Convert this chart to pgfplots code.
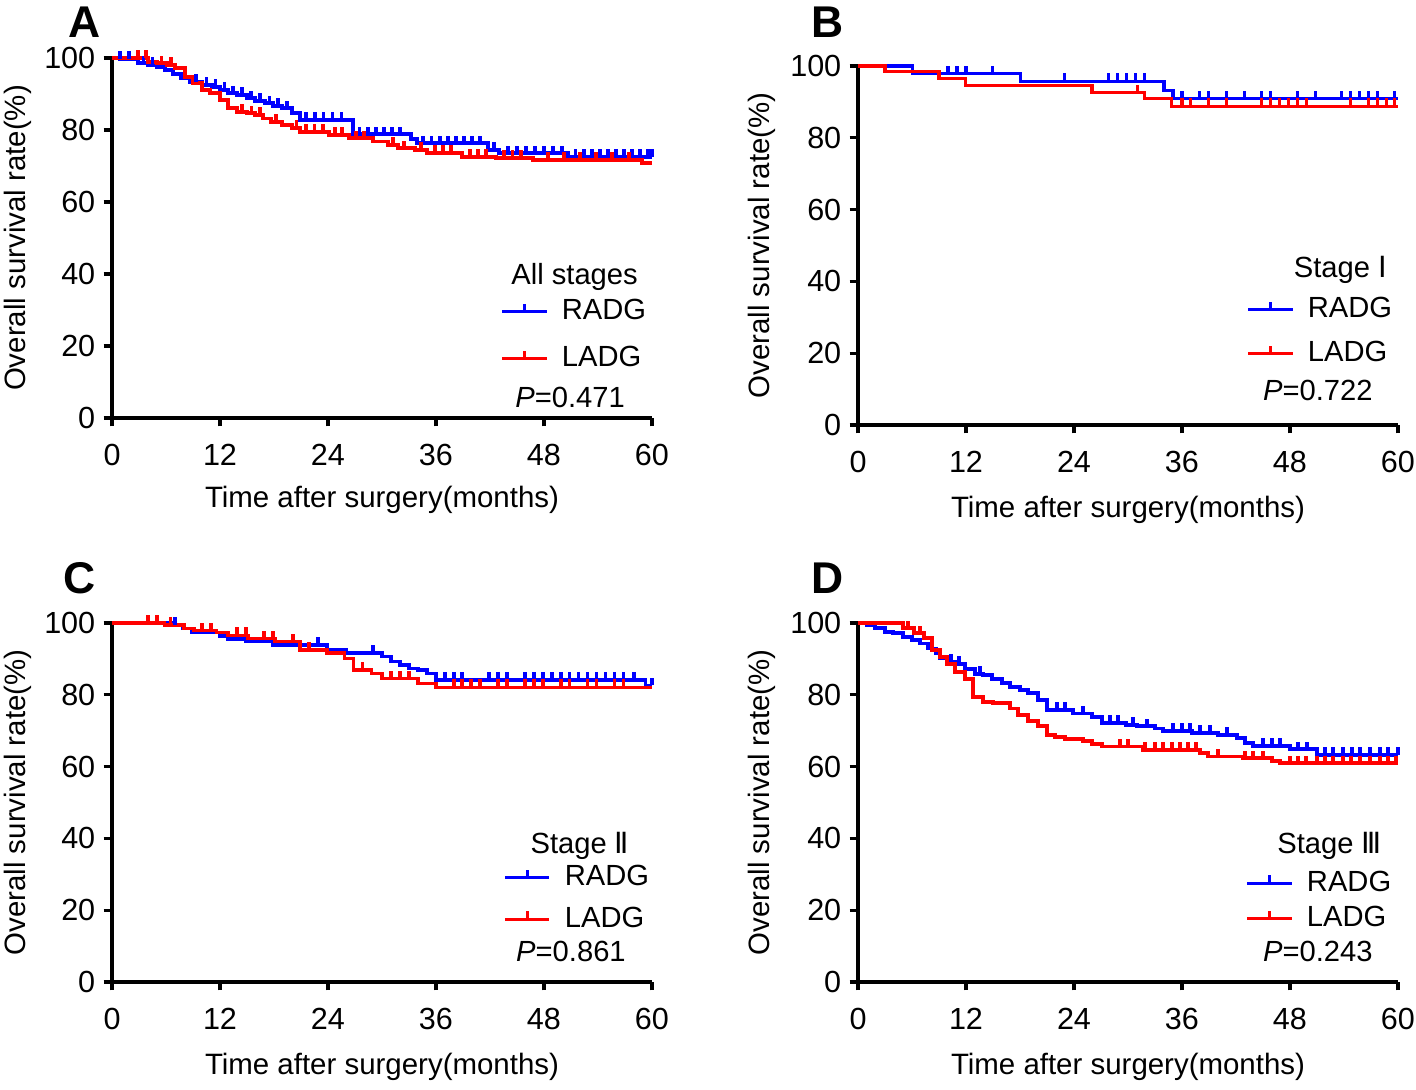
\documentclass[border=0pt]{standalone}
\usepackage{fontspec}
\setmainfont{Liberation Sans}
\newfontfamily\romfont{DejaVu Sans}
\usepackage{pgfplots}
\usepackage{pgfplotstable}
\pgfplotsset{compat=1.18}
\pgfdeclareplotmark{cens}{\pgfpathmoveto{\pgfpointorigin}\pgfpathlineto{\pgfqpoint{0pt}{\pgfplotmarksize}}\pgfusepathqstroke}
\pgfdeclareplotmark{nomark}{}
\definecolor{kmblue}{RGB}{0,0,255}
\definecolor{kmred}{RGB}{255,0,0}
\pgfplotsset{
  kmaxis/.style={
    scale only axis, width=194.4pt,
    xmin=0,xmax=60,ymin=0,ymax=100,
    axis lines=left, axis line style={-, line width=1.1pt, black},
    xtick={0,12,...,60}, ytick={0,20,...,100},
    tick align=outside, major tick length=3pt,
    tick style={black, line width=1.1pt},
    tick label style={font=\fontsize{11}{13}\selectfont},
    /pgf/number format/assume math mode=true,
    xticklabel style={yshift=-3pt},
    yticklabel style={xshift=0.5pt},
    xlabel={Time after surgery(months)},
    ylabel={Overall survival rate(\%)},
    label style={font=\fontsize{10.6}{12}\selectfont},
    clip=false,
    legend image code/.code={\draw[##1,line width=1.1pt] (0pt,0pt) -- (16pt,0pt); \draw[##1,line width=1.1pt] (8pt,0pt) -- (8pt,2.8pt);},
    legend style={draw=none, fill=none, inner sep=0pt, anchor=west, column sep=3pt, font=\fontsize{10.5}{12}\selectfont, cells={anchor=west}},
  },
  km/.style={const plot, scatter, scatter src=explicit symbolic,
    scatter/classes={0={mark=nomark},1={mark=cens}}, mark=cens,
    line width=1.4pt, mark size=2.8pt, forget plot},
}

\pgfplotstableread{
t s c
0 100 0
0.9 99.8 1
1.9 99.8 1
2.9 98.5 0
3.5 98.5 1
4.0 98.0 0
4.5 98.0 1
5.0 97.6 0
5.9 96.7 0
6.8 95.6 0
7.7 94.4 0
8.7 93.4 0
9.3 93.4 1
10.0 92.5 0
10.5 92.5 1
11.1 92.0 0
11.5 92.0 1
12.0 91.1 0
12.5 91.1 1
12.9 90.2 0
13.4 90.2 1
13.9 89.7 0
14.4 89.7 1
15.0 88.8 0
15.4 88.8 1
15.9 88.1 0
16.4 88.1 1
17.0 87.4 0
17.5 87.4 1
17.9 86.7 0
18.4 86.7 1
18.9 86.0 0
19.4 86.0 1
20.0 84.6 0
20.9 82.8 0
21.6 82.8 1
22.6 82.8 1
23.5 82.8 1
24.5 82.8 1
25.5 82.8 1
26.8 78.8 0
27.5 78.8 1
28.4 78.8 1
29.3 78.8 1
30.2 78.8 1
31.1 78.8 1
32.0 78.8 1
33.2 77.4 0
33.9 76.3 0
34.6 76.3 1
35.5 76.3 1
36.4 76.3 1
37.3 76.3 1
38.2 76.3 1
39.1 76.3 1
40.0 76.3 1
40.9 76.3 1
41.8 74.4 0
42.4 74.4 1
43.0 73.5 0
44.0 73.5 1
45.0 73.5 1
46.0 73.5 1
47.0 73.5 1
48.0 73.5 1
49.0 73.5 1
50.0 73.5 1
50.7 72.6 0
51.5 72.6 1
52.4 72.6 1
53.3 72.6 1
54.2 72.6 1
55.1 72.6 1
56.0 72.6 1
56.9 72.6 1
57.8 72.6 1
58.7 72.6 1
59.6 72.6 1
60 72.6 1
}\dataAb

\pgfplotstableread{
t s c
0 100 0
2.9 100 1
3.8 100 1
4.0 99.0 0
5.0 98.5 0
5.5 98.5 1
6.1 98.0 0
6.6 98.0 1
7.0 97.1 0
8.1 94.8 0
9.0 93.0 0
10.0 91.1 0
10.9 90.2 0
12.0 88.3 0
12.9 86.0 0
13.9 85.1 0
14.4 85.1 1
15.0 84.6 0
15.5 84.6 1
15.9 84.2 0
16.4 84.2 1
16.8 83.2 0
17.7 82.3 0
18.2 82.3 1
18.9 81.4 0
20.0 80.5 0
20.5 80.5 1
20.9 79.5 0
21.6 79.5 1
22.5 79.5 1
23.4 79.5 1
24.1 78.6 0
24.8 78.6 1
25.6 78.6 1
26.3 77.7 0
27.1 77.7 1
28.0 77.7 1
29.0 76.8 0
30.7 75.8 0
31.2 75.8 1
31.8 74.9 0
32.4 74.9 1
33.7 74.4 0
34.3 74.4 1
35.0 73.7 0
35.9 73.7 1
36.8 73.7 1
37.7 73.7 1
38.9 72.6 0
39.8 72.6 1
40.7 72.6 1
41.6 72.6 1
42.7 72.3 0
43.6 72.3 1
44.5 72.3 1
45.4 72.3 1
46.8 71.7 0
48.4 71.7 1
50.2 71.7 1
52.0 71.7 1
53.8 71.7 1
55.6 71.7 1
57.4 71.7 1
58.9 70.8 0
60 70.8 0
}\dataAr

\pgfplotstableread{
t s c
0 100 0
6.1 97.8 0
10.0 97.8 1
11.0 97.8 1
12.0 97.8 1
14.9 97.8 1
18.1 95.8 0
22.9 95.8 1
27.8 95.8 1
28.8 95.8 1
29.8 95.8 1
30.8 95.8 1
31.8 95.8 1
34.0 93.2 0
35.0 90.9 0
36.0 90.9 1
37.9 90.9 1
38.9 90.9 1
40.9 90.9 1
42.9 90.9 1
44.8 90.9 1
45.8 90.9 1
48.8 90.9 1
50.8 90.9 1
53.7 90.9 1
54.7 90.9 1
55.7 90.9 1
56.7 90.9 1
57.7 90.9 1
59.6 90.9 1
60 90.9 0
}\dataBb

\pgfplotstableread{
t s c
0 100 0
3.0 98.4 0
9.0 96.5 0
11.9 94.7 0
26.0 92.5 0
31.1 92.5 1
31.8 90.9 0
34.8 88.8 0
36.0 88.8 1
36.9 88.8 1
38.9 88.8 1
40.9 88.8 1
44.8 88.8 1
45.8 88.8 1
46.8 88.8 1
47.8 88.8 1
48.8 88.8 1
49.8 88.8 1
54.7 88.8 1
56.7 88.8 1
57.7 88.8 1
58.7 88.8 1
59.6 88.8 1
60 88.8 0
}\dataBr

\pgfplotstableread{
t s c
0 100 0
6.8 99.4 0
7.0 99.4 1
7.9 98.5 0
8.9 97.3 0
12.0 96.4 0
12.9 95.5 0
14.9 94.8 0
17.9 93.9 0
22.9 93.9 1
23.9 92.5 0
26.0 91.6 0
29.0 91.6 1
30.0 90.6 0
31.0 89.2 0
32.0 88.3 0
33.0 87.4 0
34.0 86.9 0
35.0 86.0 0
36.0 84.1 0
37.0 84.1 1
38.0 84.1 1
38.9 84.1 1
41.9 84.1 1
42.9 84.1 1
43.9 84.1 1
45.9 84.1 1
46.9 84.1 1
47.9 84.1 1
48.9 84.1 1
49.9 84.1 1
50.8 84.1 1
51.8 84.1 1
52.8 84.1 1
53.8 84.1 1
54.8 84.1 1
55.8 84.1 1
56.8 84.1 1
58.0 84.1 1
59.3 82.6 0
60 82.6 1
}\dataCb

\pgfplotstableread{
t s c
0 100 0
4.0 100 1
5.0 100 1
5.8 99.4 0
6.5 99.4 1
8.0 98.5 0
9.1 97.9 0
10.0 97.9 1
11.0 97.9 1
11.6 97.3 0
12.9 96.6 0
13.9 96.6 1
14.9 96.6 1
15.1 95.7 0
16.9 95.7 1
17.9 95.7 1
18.1 94.8 0
20.1 94.8 1
20.9 92.5 0
21.9 92.5 1
23.9 91.6 0
25.8 90.2 0
26.8 86.9 0
27.8 86.9 1
28.8 86.0 0
30.0 84.6 0
31.0 84.6 1
32.0 84.6 1
33.0 84.6 1
34.0 83.2 0
36.0 82.1 0
38.0 82.1 1
38.9 82.1 1
39.9 82.1 1
40.9 82.1 1
42.9 82.1 1
43.9 82.1 1
45.9 82.1 1
46.9 82.1 1
47.9 82.1 1
49.9 82.1 1
50.8 82.1 1
52.8 82.1 1
53.8 82.1 1
55.8 82.1 1
56.8 82.1 1
60 82.1 0
}\dataCr

\pgfplotstableread{
t s c
0 100 0
1.0 99.4 0
1.9 98.7 0
3.0 97.6 0
3.9 97.1 0
5.0 96.2 0
6.0 95.3 0
6.9 94.3 0
7.8 92.9 0
8.7 91.5 0
9.1 90.1 0
9.9 89.2 0
10.3 89.2 1
10.8 88.7 0
11.2 88.7 1
11.9 87.3 0
13.0 85.9 0
13.6 85.9 1
13.9 85.5 0
14.9 84.5 0
16.0 83.2 0
16.9 82.2 0
18.0 81.3 0
18.9 80.4 0
20.0 78.5 0
21.0 75.7 0
22.1 75.7 1
23.0 75.7 1
23.9 74.8 0
25.0 74.8 1
26.0 73.9 0
27.1 72.1 0
28.0 72.1 1
28.9 72.1 1
29.8 71.6 0
30.6 71.6 1
31.0 71.2 0
32.1 71.2 1
33.0 70.6 0
33.9 70.0 0
35.0 70.0 1
36.0 70.0 1
36.9 70.0 1
37.1 69.4 0
38.0 69.4 1
39.1 69.4 1
40.0 68.8 0
41.0 68.8 1
42.1 67.9 0
43.0 66.5 0
43.9 65.7 0
45.0 65.7 1
46.0 65.7 1
46.9 65.7 1
48.0 64.8 0
48.9 64.8 1
49.9 64.8 1
51.0 63.2 0
51.9 63.2 1
52.8 63.2 1
53.9 63.2 1
54.9 63.2 1
55.8 63.2 1
56.9 63.2 1
58.0 63.2 1
58.9 63.2 1
60.0 63.2 1
}\dataDb

\pgfplotstableread{
t s c
0 100 0
5.0 98.5 0
5.6 98.5 1
6.2 97.1 0
6.9 97.1 1
7.3 95.7 0
8.2 92.4 0
9.1 90.6 0
9.9 88.7 0
10.8 86.4 0
11.9 84.5 0
12.8 79.5 0
13.9 78.1 0
15.0 77.7 0
16.9 76.2 0
17.8 74.4 0
18.9 72.6 0
20.0 71.2 0
21.0 68.9 0
21.9 68.2 0
23.0 67.7 0
25.0 67.1 0
26.0 66.2 0
27.1 65.6 0
29.1 65.6 1
30.0 65.6 1
31.7 64.6 0
31.9 64.6 1
33.0 64.6 1
33.9 64.6 1
34.9 64.6 1
35.8 64.6 1
36.7 64.6 1
37.6 64.6 1
38.0 63.7 0
38.9 62.8 0
40.0 62.8 1
42.8 62.3 0
43.0 62.3 1
43.9 62.3 1
45.0 62.3 1
46.0 61.6 0
46.9 60.9 0
48.0 60.9 1
48.9 60.9 1
49.8 60.9 1
51.0 60.9 1
51.9 60.9 1
52.8 60.9 1
53.9 60.9 1
54.8 60.9 1
55.8 60.9 1
56.9 60.9 1
58.0 60.9 1
58.9 60.9 1
59.8 60.9 1
60 60.9 0
}\dataDr

\begin{document}
\begin{tikzpicture}
\path[use as bounding box] (0,0) rectangle (509.76pt,392.04pt);

% Panel A
\begin{axis}[kmaxis, height=129.6pt, at={(40.32pt,241.56pt)}, anchor=south west,
  xlabel style={at={(axis description cs:0.5,-0.228)}, anchor=center},
  ylabel style={at={(axis description cs:-0.174,0.5)}, anchor=center},
  legend style={at={(axis description cs:0.7185,0.2306)}, row sep=4pt}]
\addplot[km, kmblue] table[x=t, y=s, meta=c] {\dataAb};
\addplot[km, kmred] table[x=t, y=s, meta=c] {\dataAr};
\addlegendimage{kmblue}\addlegendentry{RADG}
\addlegendimage{kmred}\addlegendentry{LADG}
\node[font=\fontsize{10.5}{12}\selectfont] at (axis cs:51.4,39.2) {All stages};
\node[font=\fontsize{10.5}{12}\selectfont] at (axis cs:50.9,5.6) {\textit{P}=0.471};
\node[font=\bfseries\fontsize{16}{18}\selectfont] at (axis description cs:-0.05,1.1) {A};
\end{axis}

% Panel B
\begin{axis}[kmaxis, height=129.24pt, at={(308.88pt,239.04pt)}, anchor=south west,
  xlabel style={at={(axis description cs:0.5,-0.237)}, anchor=center},
  ylabel style={at={(axis description cs:-0.178,0.5)}, anchor=center},
  legend style={at={(axis description cs:0.7185,0.2604)}, row sep=3pt}]
\addplot[km, kmblue, line width=1.1pt] table[x=t, y=s, meta=c] {\dataBb};
\addplot[km, kmred, line width=1.1pt] table[x=t, y=s, meta=c] {\dataBr};
\addlegendimage{kmblue}\addlegendentry{RADG}
\addlegendimage{kmred}\addlegendentry{LADG}
\node[font=\fontsize{10.5}{12}\selectfont] at (axis cs:53.6,43.2) {Stage {\romfont Ⅰ}};
\node[font=\fontsize{10.5}{12}\selectfont] at (axis cs:51.1,9.5) {\textit{P}=0.722};
\node[font=\bfseries\fontsize{16}{18}\selectfont] at (axis description cs:-0.0556,1.1226) {B};
\end{axis}

% Panel C
\begin{axis}[kmaxis, height=129.24pt, at={(40.32pt,38.52pt)}, anchor=south west,
  xlabel style={at={(axis description cs:0.5,-0.237)}, anchor=center},
  ylabel style={at={(axis description cs:-0.174,0.5)}, anchor=center},
  legend style={at={(axis description cs:0.724,0.2326)}, row sep=2pt}]
\addplot[km, kmblue, line width=1.2pt] table[x=t, y=s, meta=c] {\dataCb};
\addplot[km, kmred, line width=1.2pt] table[x=t, y=s, meta=c] {\dataCr};
\addlegendimage{kmblue}\addlegendentry{RADG}
\addlegendimage{kmred}\addlegendentry{LADG}
\node[font=\fontsize{10.5}{12}\selectfont] at (axis cs:52.0,37.9) {Stage {\romfont Ⅱ}};
\node[font=\fontsize{10.5}{12}\selectfont] at (axis cs:51.0,8.6) {\textit{P}=0.861};
\node[font=\bfseries\fontsize{16}{18}\selectfont] at (axis description cs:-0.0593,1.1253) {C};
\end{axis}

% Panel D
\begin{axis}[kmaxis, height=129.24pt, at={(308.88pt,38.52pt)}, anchor=south west,
  xlabel style={at={(axis description cs:0.5,-0.237)}, anchor=center},
  ylabel style={at={(axis description cs:-0.178,0.5)}, anchor=center},
  legend style={at={(axis description cs:0.7167,0.2256)}, row sep=0pt}]
\addplot[km, kmblue] table[x=t, y=s, meta=c] {\dataDb};
\addplot[km, kmred] table[x=t, y=s, meta=c] {\dataDr};
\addlegendimage{kmblue}\addlegendentry{RADG}
\addlegendimage{kmred}\addlegendentry{LADG}
\node[font=\fontsize{10.5}{12}\selectfont] at (axis cs:52.4,37.9) {Stage {\romfont Ⅲ}};
\node[font=\fontsize{10.5}{12}\selectfont] at (axis cs:51.1,8.4) {\textit{P}=0.243};
\node[font=\bfseries\fontsize{16}{18}\selectfont] at (axis description cs:-0.0556,1.1253) {D};
\end{axis}
\end{tikzpicture}
\end{document}
